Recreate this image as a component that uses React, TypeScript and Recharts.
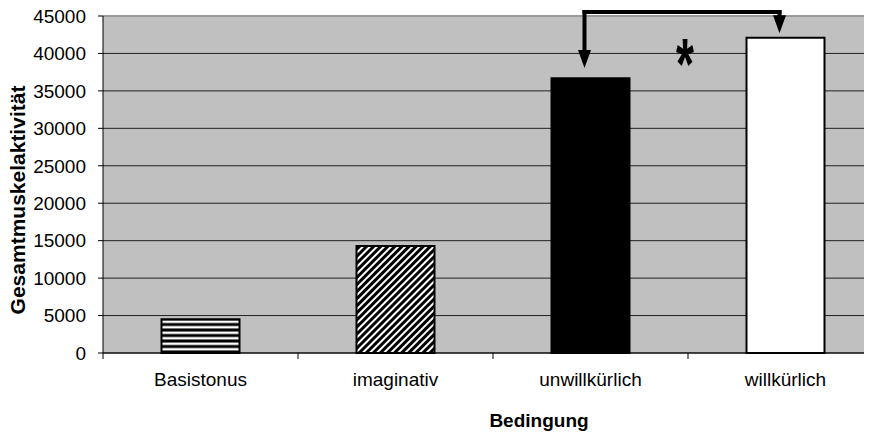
import { BarChart, Bar, XAxis, YAxis, CartesianGrid, Cell, ReferenceLine, Label } from 'recharts'

const categories = ['Basistonus', 'imaginativ', 'unwillkürlich', 'willkürlich']
const activity = [4500, 14300, 36700, 42100]
const fills = ['url(#hstripes)', 'url(#dstripes)', '#000000', '#ffffff']
const yTicks = [0, 5000, 10000, 15000, 20000, 25000, 30000, 35000, 40000, 45000]

const data = categories.map((name, i) => ({ name, value: activity[i] }))

const font = '"Liberation Sans", Arial, sans-serif'

// significance bracket, in data units
const bracketY = 45530
const arrowTipLeft = 38050
const arrowTipRight = 42700
const starY = 40300

function CategoryTick({ x, y, payload }: any) {
  const off = payload?.offset ?? 97.5
  return (
    <g>
      <line x1={x - off} x2={x - off} y1={y} y2={y + 6} stroke="#000" strokeWidth={1} />
      <text x={x} y={y + 33} textAnchor="middle" fontFamily={font} fontSize={19} fill="#000">
        {payload.value}
      </text>
    </g>
  )
}

function ArrowShape(props: any) {
  const { x1, y1, x2, y2, head } = props
  const dx = -6
  if (x1 == null) return null
  const tipY = Math.max(y1, y2)
  const topY = Math.min(y1, y2)
  if (!head) {
    return <line x1={x1 + dx} y1={y1} x2={x2 + dx} y2={y2} stroke="#000" strokeWidth={4} strokeLinecap="square" />
  }
  return (
    <g>
      <line x1={x1 + dx} y1={topY} x2={x1 + dx} y2={tipY - 12} stroke="#000" strokeWidth={4} strokeLinecap="square" />
      <polygon points={`${x1 + dx - 6.5},${tipY - 18} ${x1 + dx + 6.5},${tipY - 18} ${x1 + dx},${tipY}`} fill="#000" />
    </g>
  )
}

function StarShape(props: any) {
  const { x1, y1, x2 } = props
  if (x1 == null) return null
  const cx = (x1 + x2) / 2 - 3
  return (
    <text
      x={0}
      y={0}
      transform={`translate(${cx}, ${y1 + 38}) scale(1.05, 1.65)`}
      textAnchor="middle"
      fontFamily={font}
      fontWeight="bold"
      fontSize={44}
      fill="#000"
    >
      *
    </text>
  )
}

export default function App() {
  return (
    <div style={{ margin: -8, width: 872, height: 439, overflow: 'hidden', background: '#fff' }}>
      <BarChart
        width={885}
        height={439}
        data={data}
        margin={{ top: 16, right: 2, bottom: 0, left: 0 }}
        barCategoryGap="30%"
      >
        <defs>
          <pattern id="hstripes" patternUnits="userSpaceOnUse" width={8} height={5.5}>
            <rect width={8} height={5.5} fill="#000" />
            <rect y={1.5} width={8} height={2.5} fill="#fff" />
          </pattern>
          <pattern id="dstripes" patternUnits="userSpaceOnUse" width={5} height={5} patternTransform="rotate(45)">
            <rect width={5} height={5} fill="#000" />
            <rect x={0} width={2} height={5} fill="#fff" />
          </pattern>
        </defs>
        <CartesianGrid vertical={false} fill="#c0c0c0" stroke="#222" strokeWidth={1} />
        <ReferenceLine y={45000} stroke="#999" strokeWidth={2} />
        <XAxis
          dataKey="name"
          axisLine={{ stroke: '#000', strokeWidth: 1 }}
          tickLine={false}
          tickSize={0}
          tickMargin={0}
          height={86}
          interval={0}
          tick={<CategoryTick />}
        >
          <Label
            content={() => (
              <text x={539} y={427} textAnchor="middle" fontFamily={font} fontWeight="bold" fontSize={19} fill="#000">
                Bedingung
              </text>
            )}
          />
        </XAxis>
        <YAxis
          width={103}
          domain={[0, 45000]}
          ticks={yTicks}
          interval={0}
          axisLine={{ stroke: '#000', strokeWidth: 1 }}
          tickLine={{ stroke: '#000' }}
          tickSize={5}
          tickMargin={12}
          tick={{ fontFamily: font, fontSize: 19, fill: '#000' }}
        >
          <Label
            content={() => (
              <text
                transform="translate(25, 200) rotate(-90)"
                textAnchor="middle"
                fontFamily={font}
                fontWeight="bold"
                fontSize={21}
                fill="#000"
              >
                Gesamtmuskelaktivität
              </text>
            )}
          />
        </YAxis>
        <Bar dataKey="value" stroke="#000" strokeWidth={2} isAnimationActive={false}>
          {data.map((d, i) => (
            <Cell key={d.name} fill={fills[i]} />
          ))}
        </Bar>
        <ReferenceLine
          ifOverflow="visible"
          segment={[
            { x: 'unwillkürlich', y: bracketY },
            { x: 'unwillkürlich', y: arrowTipLeft },
          ]}
          shape={(p: any) => <ArrowShape {...p} head />}
        />
        <ReferenceLine
          ifOverflow="visible"
          segment={[
            { x: 'unwillkürlich', y: bracketY },
            { x: 'willkürlich', y: bracketY },
          ]}
          shape={(p: any) => <ArrowShape {...p} />}
        />
        <ReferenceLine
          ifOverflow="visible"
          segment={[
            { x: 'willkürlich', y: bracketY },
            { x: 'willkürlich', y: arrowTipRight },
          ]}
          shape={(p: any) => <ArrowShape {...p} head />}
        />
        <ReferenceLine
          ifOverflow="visible"
          segment={[
            { x: 'unwillkürlich', y: starY },
            { x: 'willkürlich', y: starY },
          ]}
          shape={(p: any) => <StarShape {...p} />}
        />
      </BarChart>
    </div>
  )
}
